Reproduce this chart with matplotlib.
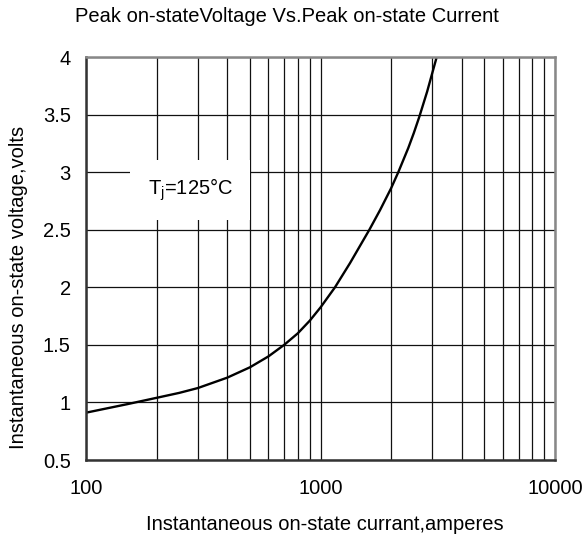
import numpy as np
import matplotlib
matplotlib.use('Agg')
import matplotlib.pyplot as plt
from matplotlib.ticker import FixedLocator, NullFormatter

plt.rcParams['font.family'] = ['Liberation Sans', 'DejaVu Sans']

# curve
current = [100, 150, 200, 250, 300, 400, 500, 600, 700, 800, 900, 1000,
           1153, 1336, 1616, 1794, 2000, 2147, 2368, 2500, 2638, 2850, 3130]
voltage = [0.911, 0.985, 1.04, 1.083, 1.125, 1.215, 1.305, 1.40, 1.5, 1.60, 1.71, 1.825,
           2.0, 2.21, 2.5, 2.67, 2.86, 3.0, 3.21, 3.34, 3.48, 3.70, 4.0]

xticks = [100, 1000, 10000]
xtick_labels = ['100', '1000', '10000']
yticks = [0.5, 1, 1.5, 2, 2.5, 3, 3.5, 4]
ytick_labels = ['0.5', '1', '1.5', '2', '2.5', '3', '3.5', '4']

FS = 14.5

fig = plt.figure(figsize=(5.84, 5.42), dpi=100)
ax = fig.add_axes([86/584, 1 - 460/542, (555-86)/584, (460-57)/542])

ax.set_xscale('log')
ax.set_xlim(100, 10000)
ax.set_ylim(0.5, 4)

minor = [m * d for d in (100, 1000) for m in range(2, 10)]
ax.xaxis.set_major_locator(FixedLocator(xticks))
ax.xaxis.set_minor_locator(FixedLocator(minor))
ax.xaxis.set_minor_formatter(NullFormatter())
ax.set_xticks(xticks)
ax.set_xticklabels(xtick_labels)
ax.set_yticks(yticks)
ax.set_yticklabels(ytick_labels)

ax.grid(True, which='both', axis='x', color='#111111', linewidth=0.9)
ax.grid(True, which='major', axis='y', color='#111111', linewidth=0.9)
ax.tick_params(which='both', length=0, labelsize=FS)
ax.tick_params(axis='x', pad=14)
ax.tick_params(axis='y', pad=11)

for side in ['left', 'bottom']:
    ax.spines[side].set_color('#333333')
    ax.spines[side].set_linewidth(1.8)
for side in ['top', 'right']:
    ax.spines[side].set_color('#888888')
    ax.spines[side].set_linewidth(1.8)

ax.plot(current, voltage, color='black', linewidth=1.7)

ax.text(278, 2.846, 'T$_\\mathregular{j}$=125°C', fontsize=FS,
        ha='center', va='center',
        bbox=dict(boxstyle='square,pad=0.85', facecolor='white', edgecolor='none'))

fig.text(325/584, 1 - 525/542, 'Instantaneous on-state currant,amperes',
         fontsize=FS, ha='center', va='center')
fig.text(19/584, 1 - 287/542, 'Instantaneous on-state voltage,volts',
         fontsize=FS, ha='center', va='center', rotation=90)
fig.text(287/584, 1 - 17/542, 'Peak on-stateVoltage Vs.Peak on-state Current',
         fontsize=FS, ha='center', va='center')

fig.savefig('out.png', dpi=100)
